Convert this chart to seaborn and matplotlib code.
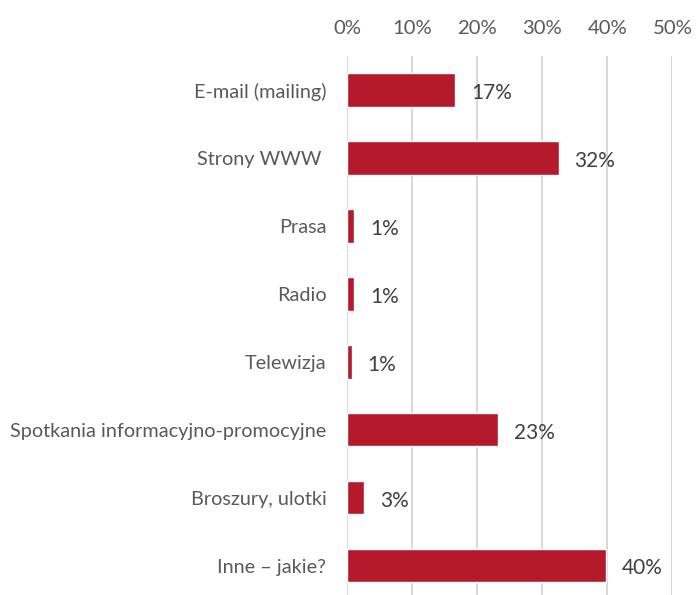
import matplotlib
matplotlib.use("Agg")
import matplotlib.pyplot as plt
import seaborn as sns
import pandas as pd

categories = [
    "E-mail (mailing)",
    "Strony WWW ",
    "Prasa",
    "Radio",
    "Telewizja",
    "Spotkania informacyjno-promocyjne",
    "Broszury, ulotki",
    "Inne – jakie?",
]
shares = [16.6, 32.5, 1.1, 1.1, 0.7, 23.2, 2.6, 39.8]
x_ticks = [0, 10, 20, 30, 40, 50]

bar_color = "#B41A2A"
text_color = "#595959"
grid_color = "#D9D9D9"

sns.set_theme(style="white")
plt.rcParams["font.family"] = ["Lato", "DejaVu Sans"]

df = pd.DataFrame({"kanal": categories, "udzial": shares})

fig = plt.figure(figsize=(6.97, 5.95), dpi=100)
ax = fig.add_axes([347.3 / 697, 0.0, 325 / 697, 1 - 56 / 595])

sns.barplot(data=df, y="kanal", x="udzial", orient="h", color=bar_color,
            saturation=1, width=0.49, ax=ax, zorder=3)

ax.set_xlim(0, 50)
ax.set_ylim(7.43, -0.5)
ax.set_xticks(x_ticks)
ax.set_xticklabels([f"{t}%" for t in x_ticks])
ax.xaxis.tick_top()
ax.tick_params(axis="x", length=0, pad=14, labelsize=14.6, labelcolor=text_color)
ax.tick_params(axis="y", length=0, pad=15, labelsize=14.3, labelcolor=text_color)
ax.set_xlabel("")
ax.set_ylabel("")

ax.grid(axis="x", color=grid_color, linewidth=1.5, zorder=0)
ax.grid(axis="y", visible=False)
for side in ["top", "right", "bottom", "left"]:
    ax.spines[side].set_visible(False)

for i, v in enumerate(shares):
    ax.text(v + 2.4, i + 0.04, f"{v:.0f}%", va="center", ha="left",
            fontsize=15, color="#404040")

fig.savefig("out.png", dpi=100)
